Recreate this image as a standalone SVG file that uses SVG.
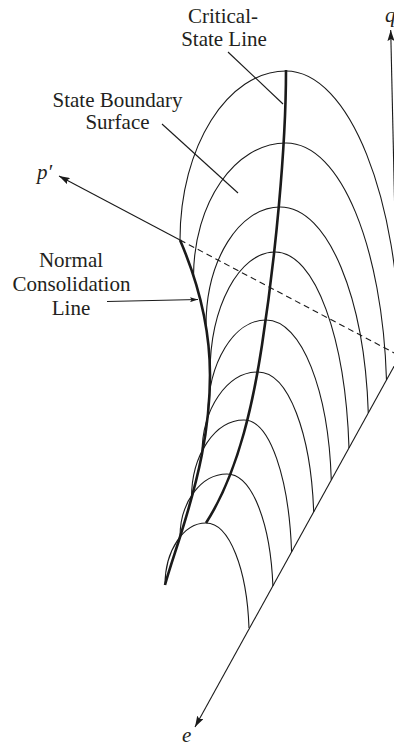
<svg xmlns="http://www.w3.org/2000/svg" width="394" height="747" viewBox="0 0 394 747">
<defs>
<style>
.thin{fill:none;stroke:#1a1a1a;stroke-width:1.1}
.thick{fill:none;stroke:#1a1a1a;stroke-width:2.6;stroke-linecap:butt}
.axis{fill:none;stroke:#1a1a1a;stroke-width:1.1}
.dash{fill:none;stroke:#1a1a1a;stroke-width:1.1;stroke-dasharray:6 4}
.lbl{font-family:"Liberation Serif","Times New Roman",serif;font-size:21px;fill:#231f20;text-anchor:middle}
.sym{font-family:"Liberation Serif","Times New Roman",serif;font-size:21px;font-style:italic;fill:#231f20}
</style>
<marker id="ah" viewBox="0 0 11 7" refX="11" refY="3.5" markerWidth="11" markerHeight="7" orient="auto" markerUnits="userSpaceOnUse">
<path d="M0,0 L11,3.5 L0,7 L2,3.5 z" fill="#1a1a1a"/>
</marker>
<marker id="ahs" viewBox="0 0 8 5" refX="8" refY="2.5" markerWidth="8" markerHeight="5" orient="auto" markerUnits="userSpaceOnUse">
<path d="M0,0 L8,2.5 L0,5 L1.5,2.5 z" fill="#1a1a1a"/>
</marker>
</defs>
<rect width="394" height="747" fill="#ffffff"/>

<g id="axes">
<path class="axis" d="M180,240 L59,176" marker-end="url(#ah)"/>
<path class="dash" d="M180,240 L400,356"/>
<path class="axis" d="M398,355.5 L390.7,30" marker-end="url(#ah)"/>
<path class="axis" d="M400,355.5 L195,727" marker-end="url(#ah)"/>
</g>

<g id="state-boundary-surface">
<path class="thin" d="M180,240 C180,146.7 227.5,71 286,71 C349,71 400,198.4 400,355.5"/>
<path class="thin" d="M193.5,277 C193.5,203 234.9,143 286,143 C341.5,143 382.5,249.1 386.5,380"/>
<path class="thin" d="M206,326 C206,260.3 239.1,207 280,207 C328.8,207 364.5,299 368.3,413"/>
<path class="thin" d="M210,374 C210,306.6 239.1,252 275,252 C315.9,252 345.5,339.7 349,448"/>
<path class="thin" d="M208,415 C208,362.5 234,320 266,320 C302.1,320 328.5,391.6 331.3,480"/>
<path class="thin" d="M202,454 C202,408.7 227.1,372 258,372 C288.8,372 311,434.7 313.7,512"/>
<path class="thin" d="M191.5,498 C191.5,454.9 215,420 244,420 C270.3,420 289,479 291.6,552"/>
<path class="thin" d="M180,537 C180,502.2 201,474 227,474 C252.4,474 270.5,524 272.9,586"/>
<path class="thin" d="M165,585 C165,550.8 183.4,523 206,523 C229.7,523 247,570 249,628"/>
</g>

<g id="normal-consolidation-line">
<path class="thick" d="M180,240 C195,275 210,320 210,375 C210,430 198,480 180,537 C174,556 169,570 165,585"/>
</g>

<g id="critical-state-line">
<path class="thick" d="M286,70 C286,150 275,260 262,345 C254.2,396 240,470 206,523"/>
</g>

<g id="connectors">
<path class="thin" d="M228,52 L283,104"/>
<path class="thin" d="M162,124 L238,193"/>
<path class="thin" d="M107,301.5 L198,299.5" marker-end="url(#ahs)"/>
</g>

<g id="label-csl">
<text class="lbl" x="223" y="23">Critical-</text>
<text class="lbl" x="224" y="46">State Line</text>
</g>
<g id="label-sbs">
<text class="lbl" x="117.5" y="107">State Boundary</text>
<text class="lbl" x="117.5" y="129">Surface</text>
</g>
<g id="label-ncl">
<text class="lbl" x="71" y="267">Normal</text>
<text class="lbl" x="71.5" y="291">Consolidation</text>
<text class="lbl" x="71" y="315">Line</text>
</g>
<g id="label-p">
<text class="sym" x="37" y="179">p′</text>
</g>
<g id="label-q">
<text class="sym" x="385" y="22">q</text>
</g>
<g id="label-e">
<text class="sym" x="182" y="742">e</text>
</g>
</svg>
